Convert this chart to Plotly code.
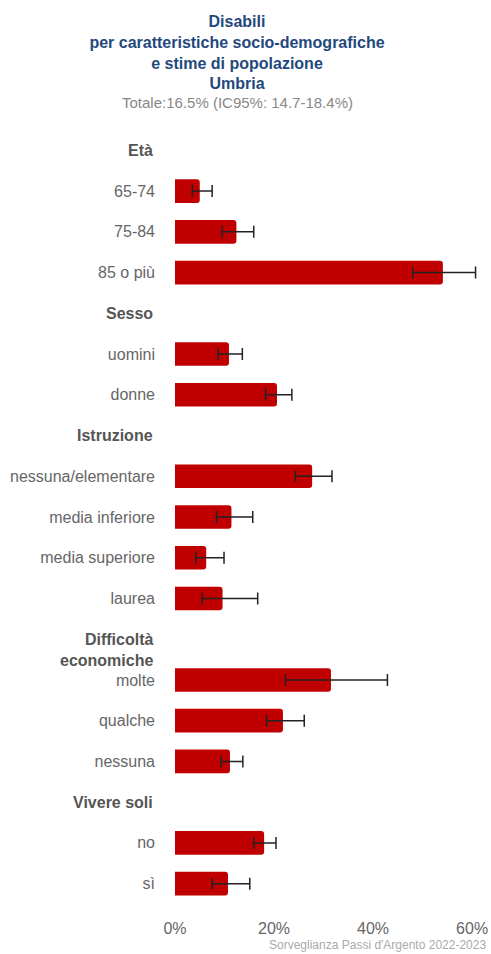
import plotly.graph_objects as go

# ---- data ----
headers = ["Età", "Sesso", "Istruzione", "Difficoltà<br>economiche", "Vivere soli"]
group_labels = [
    ["65-74", "75-84", "85 o più"],
    ["uomini", "donne"],
    ["nessuna/elementare", "media inferiore", "media superiore", "laurea"],
    ["molte", "qualche", "nessuna"],
    ["no", "sì"],
]
group_values = [
    [5.0, 12.4, 54.1],
    [10.9, 20.6],
    [27.7, 11.4, 6.3, 9.6],
    [31.5, 21.8, 11.1],
    [18.0, 10.7],
]
group_low = [
    [3.5, 9.5, 48.0],
    [8.7, 18.3],
    [24.3, 8.4, 4.2, 5.5],
    [22.3, 18.5, 9.3],
    [15.9, 7.5],
]
group_high = [
    [7.5, 15.9, 60.7],
    [13.6, 23.6],
    [31.7, 15.7, 9.9, 16.7],
    [42.9, 26.1, 13.7],
    [20.4, 15.1],
]
x_ticks = [0, 20, 40, 60]
title_lines = ["Disabili", "per caratteristiche socio-demografiche", "e stime di popolazione", "Umbria"]
subtitle = "Totale:16.5% (IC95%: 14.7-18.4%)"
footer = "Sorveglianza Passi d'Argento 2022-2023"

# ---- build category lists ----
cats, vals, lo, hi, ticktext, header_ids = [], [], [], [], [], []
for gi, h in enumerate(headers):
    hid = "__h%d" % gi
    cats.append(hid); vals.append(None); lo.append(None); hi.append(None)
    ticktext.append("")
    header_ids.append(hid)
    for lab, v, l, u in zip(group_labels[gi], group_values[gi], group_low[gi], group_high[gi]):
        cid = "%d_%s" % (gi, lab)
        cats.append(cid); vals.append(v); lo.append(v - l); hi.append(u - v)
        ticktext.append(lab)

FONT = "Liberation Sans, Arial, sans-serif"
W, H = 491, 954
ML, MR, MT, MB = 175, 9, 130, 50
PW, PH = W - ML - MR, H - MT - MB

fig = go.Figure()
fig.add_trace(go.Bar(
    y=cats, x=vals, orientation="h",
    marker=dict(color="#C00000", cornerradius=3, line=dict(width=0)),
    width=0.58,
    error_x=dict(type="data", symmetric=False, array=hi, arrayminus=lo,
                 color="#222222", thickness=1.5, width=6),
    hoverinfo="x+y",
))

for gi, hid in enumerate(header_ids):
    two = "<br>" in headers[gi]
    fig.add_annotation(
        x=0, xref="paper", y=hid, yref="y",
        text="<b>%s</b>" % headers[gi], showarrow=False,
        xanchor="right", yanchor="middle", xshift=-20, yshift=-11 if two else 0,
        align="right",
        font=dict(family=FONT, size=16, color="#555555"),
    )

fig.add_annotation(
    x=(237 - ML) / PW, xref="paper", y=1 + (MT - 103) / PH, yref="paper",
    text=subtitle, showarrow=False, xanchor="center", yanchor="middle",
    font=dict(family=FONT, size=15, color="#888888"),
)
fig.add_annotation(
    x=(488 - ML) / PW, xref="paper", y=-(H - (H - MB)) / PH, yref="paper",
    text=footer, showarrow=False, xanchor="right", yanchor="bottom",
    font=dict(family=FONT, size=12, color="#AAAAAA"),
)

fig.update_layout(
    width=W, height=H,
    margin=dict(l=ML, r=MR, t=MT, b=MB, autoexpand=False),
    paper_bgcolor="white", plot_bgcolor="white",
    showlegend=False,
    title=dict(
        text="<b>" + "<br>".join(title_lines) + "</b>",
        x=237 / W, xref="container", xanchor="center",
        y=1 - 27 / H, yref="container", yanchor="top",
        font=dict(family=FONT, size=16, color="#1F497D"),
    ),
    xaxis=dict(
        range=[0, 62], tickvals=x_ticks, ticktext=["%d%%" % t for t in x_ticks],
        showgrid=False, zeroline=False, showline=False, ticks="",
        ticklabelstandoff=13, automargin=False,
        tickfont=dict(family=FONT, size=16, color="#666666"),
    ),
    yaxis=dict(
        categoryorder="array", categoryarray=cats,
        tickvals=cats, ticktext=ticktext,
        autorange="reversed",
        showgrid=False, zeroline=False, showline=False, ticks="",
        ticklabelstandoff=19, automargin=False,
        tickfont=dict(family=FONT, size=16, color="#666666"),
    ),
)

fig.write_html("out.html")
